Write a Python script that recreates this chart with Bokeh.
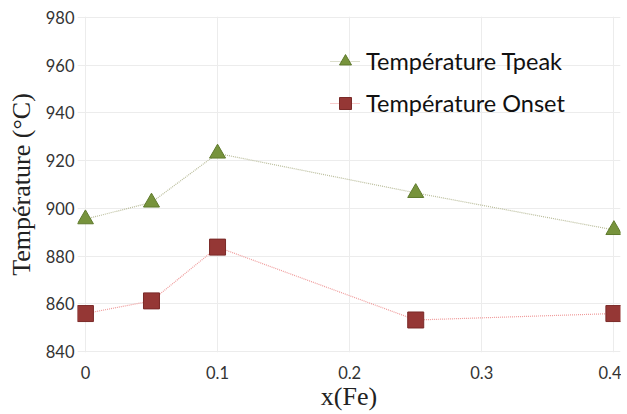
from bokeh.plotting import figure
from bokeh.models import Range1d, FixedTicker, Legend, LegendItem
from bokeh.embed import file_html
from bokeh.resources import INLINE

x_fe = [0, 0.05, 0.1, 0.25, 0.4]
t_peak = [895.5, 902.5, 923, 906.5, 891]
t_onset = [856, 861.3, 883.8, 853.3, 856]
x_ticks = [0, 0.1, 0.2, 0.3, 0.4]
y_ticks = [840, 860, 880, 900, 920, 940, 960, 980]

p = figure(width=621, height=413, output_backend="svg", toolbar_location=None,
           x_range=Range1d(-0.006, 0.405), y_range=Range1d(839.7, 980.3),
           min_border_left=77, min_border_right=1, min_border_top=16, min_border_bottom=0)
p.outline_line_color = None
p.background_fill_color = "white"

p.xaxis.ticker = FixedTicker(ticks=x_ticks)
p.yaxis.ticker = FixedTicker(ticks=y_ticks)
p.xaxis.major_label_overrides = {0: "0", 0.1: "0.1", 0.2: "0.2", 0.3: "0.3", 0.4: "0.4"}
for ax in (p.xaxis, p.yaxis):
    ax.axis_line_color = None
    ax.major_tick_line_color = None
    ax.minor_tick_line_color = None
    ax.major_tick_out = 0
    ax.major_tick_in = 0
    ax.major_label_text_font = "Lato"
    ax.major_label_text_font_size = "16.5px"
    ax.major_label_text_color = "#333333"
    ax.axis_label_text_font = "Liberation Serif"
    ax.axis_label_text_font_size = "26px"
    ax.axis_label_text_font_style = "normal"
    ax.axis_label_text_color = "#222222"
p.xaxis.axis_label = "x(Fe)"
p.yaxis.axis_label = "Température (°C)"
p.xaxis.major_label_standoff = 13
p.yaxis.major_label_standoff = 3
p.xaxis.axis_label_standoff = 0
p.yaxis.axis_label_standoff = 7

p.xgrid.ticker = FixedTicker(ticks=x_ticks)
p.ygrid.ticker = FixedTicker(ticks=y_ticks)
p.grid.grid_line_color = "#ececec"
p.grid.grid_line_width = 1

l1 = p.line(x_fe, t_peak, line_color="#b9bc9a", line_width=1.2, line_dash="1 1")
m1 = p.scatter(x_fe, t_peak, marker="triangle", size=16, fill_color="#77933c", line_color="#5f7a2c")
l2 = p.line(x_fe, t_onset, line_color="#ef9a9a", line_width=1.2, line_dash="1 1")
m2 = p.scatter(x_fe, t_onset, marker="square", size=16, fill_color="#953735", line_color="#7a2a28")

legend = Legend(items=[LegendItem(label="Température Tpeak", renderers=[l1, m1]),
                       LegendItem(label="Température Onset", renderers=[l2, m2])],
                location=(253, 234), border_line_color=None, background_fill_alpha=0,
                label_text_font="Lato", label_text_font_size="23.5px", label_text_color="#111111",
                glyph_width=30, glyph_height=30, label_height=22, spacing=12, padding=0,
                margin=0, label_standoff=6)
p.add_layout(legend)

open("out.html", "w").write(file_html(p, INLINE))
